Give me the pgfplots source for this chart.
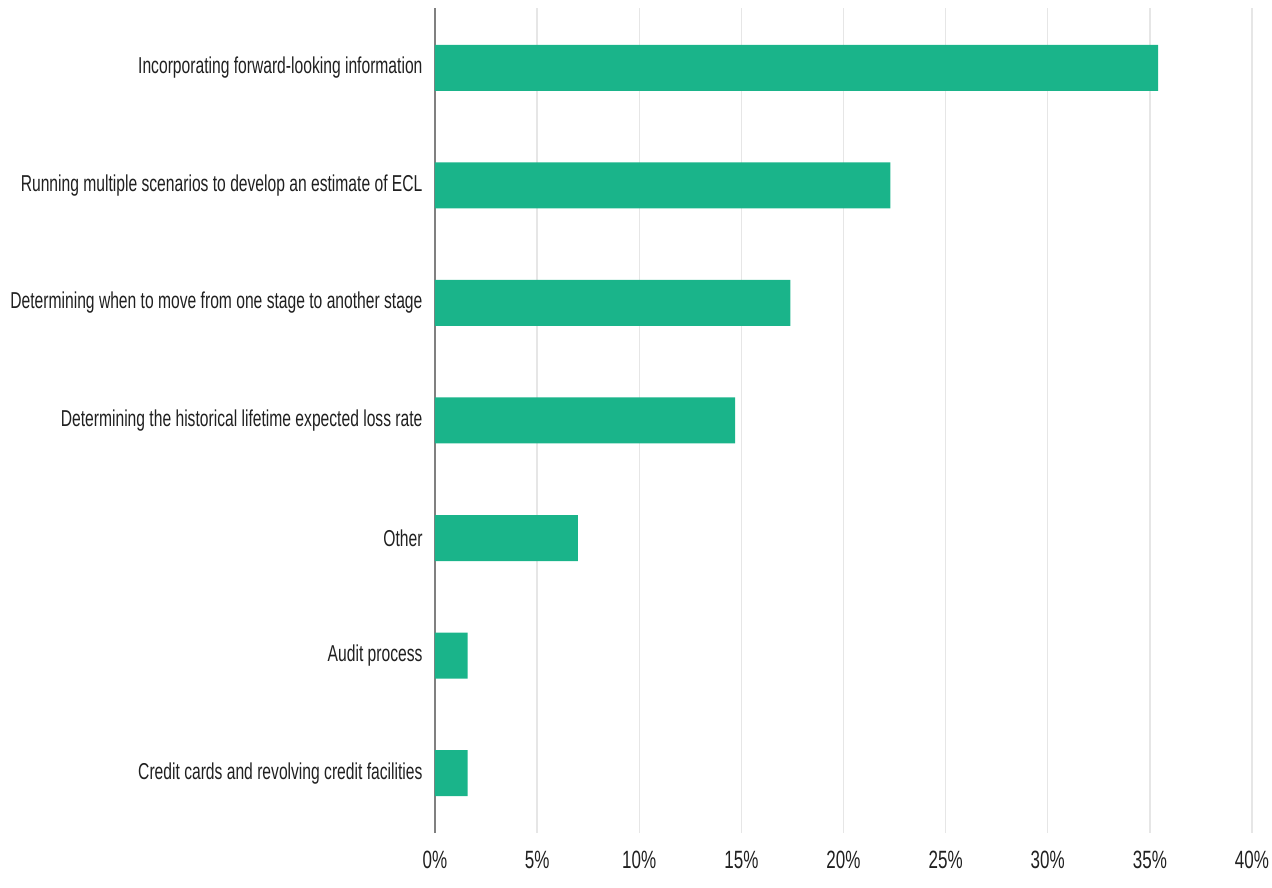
\documentclass[border=0pt]{standalone}
\usepackage{fontspec}
\setmainfont{Liberation Sans}[FakeStretch=0.68]
\usepackage{pgfplots}
\pgfplotsset{compat=1.18}
\definecolor{barg}{RGB}{26,180,138}
\definecolor{gridc}{RGB}{230,230,230}
\definecolor{axc}{RGB}{128,128,128}
\definecolor{txt}{RGB}{32,32,32}
\begin{document}
\begin{tikzpicture}
\begin{axis}[
  at={(435pt,54pt)}, anchor=south west,
  scale only axis,
  width=817pt, height=825pt,
  xmin=0, xmax=40,
  ymin=-0.51, ymax=6.51,
  xbar, bar width=46pt,
  axis y line=left, axis x line=bottom,
  axis line style={-},
  x axis line style={draw=none},
  y axis line style={draw=axc, line width=1.5pt},
  xtick={0,5,...,40},
  xticklabels={0\%,5\%,10\%,15\%,20\%,25\%,30\%,35\%,40\%},
  ytick={0,...,6},
  yticklabels={Credit cards and revolving credit facilities,Audit process,Other,Determining the historical lifetime expected loss rate,Determining when to move from one stage to another stage,Running multiple scenarios to develop an estimate of ECL,Incorporating forward-looking information},
  major tick length=0pt,
  xmajorgrids, major grid style={draw=gridc, line width=1.3pt},
  yticklabel style={font=\fontsize{23}{25}\selectfont, text=txt, xshift=-9pt},
  xticklabel style={font=\fontsize{25}{27}\selectfont, text=txt, yshift=-15pt},
  /pgf/number format/assume math mode=true,
  clip=false,
]
\addplot[fill=barg, draw=none] coordinates {
(1.6,0) (1.6,1) (7.0,2) (14.7,3) (17.4,4) (22.3,5) (35.4,6)
};
\end{axis}
\pgfresetboundingbox
\useasboundingbox (0,0) rectangle (1272pt,887pt);
\end{tikzpicture}
\end{document}
